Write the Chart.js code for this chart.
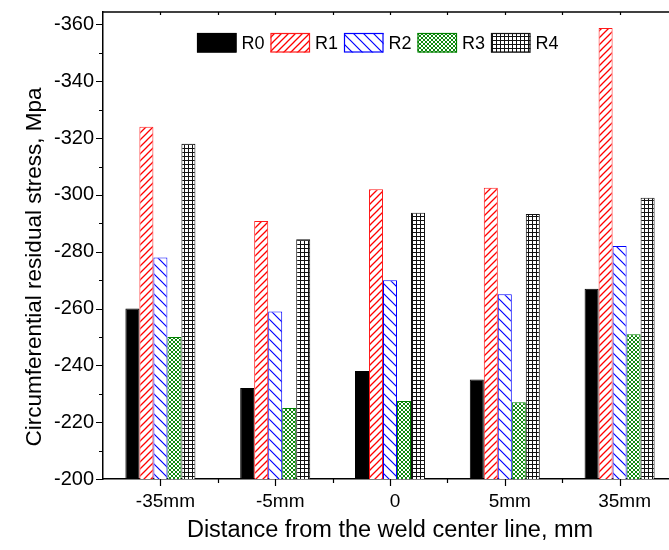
<!DOCTYPE html>
<html>
<head>
<meta charset="utf-8">
<script src="https://cdn.jsdelivr.net/npm/chart.js@4.4.1/dist/chart.umd.min.js"></script>
<style>
html,body{margin:0;padding:0;background:#fff;overflow:hidden;width:669px;height:550px;}
#wrap{width:690px;height:550px;}
</style>
</head>
<body>
<div id="wrap"><canvas id="c" width="690" height="550"></canvas></div>
<script>
// ---- data ----
const categories = ['-35mm', '-5mm', '0', '5mm', '35mm'];
const seriesNames = ['R0', 'R1', 'R2', 'R3', 'R4'];
const R0 = [-260, -232, -238, -235, -267];
const R1 = [-324, -290.8, -302, -302.5, -358.8];
const R2 = [-278, -259, -270, -265, -282];
const R3 = [-250, -225, -227.5, -227, -251];
const R4 = [-318, -284.4, -293.7, -293.3, -299];
const yTickValues = [-200, -220, -240, -260, -280, -300, -320, -340, -360];
const yMinorValues = [-210, -230, -250, -270, -290, -310, -330, -350];
const xTitle = 'Distance from the weld center line, mm';
const yTitle = 'Circumferential residual stress, Mpa';

// ---- patterns ----
function makePattern(kind, color, lw) {
  const c = document.createElement('canvas');
  let s = 7;
  if (kind === 'back') s = 10;
  if (kind === 'cross') s = 4;
  if (kind === 'grid') s = 4;
  c.width = s; c.height = s;
  const g = c.getContext('2d');
  g.fillStyle = '#fff';
  g.fillRect(0, 0, s, s);
  g.strokeStyle = color;
  g.lineWidth = lw;
  g.beginPath();
  if (kind === 'fwd') {
    g.moveTo(-1, s + 1); g.lineTo(s + 1, -1);
    g.moveTo(-1, 1); g.lineTo(1, -1);
    g.moveTo(s - 1, s + 1); g.lineTo(s + 1, s - 1);
  } else if (kind === 'back') {
    g.moveTo(-1, -1); g.lineTo(s + 1, s + 1);
    g.moveTo(s - 1, -1); g.lineTo(s + 1, 1);
    g.moveTo(-1, s - 1); g.lineTo(1, s + 1);
  } else if (kind === 'cross') {
    g.moveTo(-1, -1); g.lineTo(s + 1, s + 1);
    g.moveTo(-1, s + 1); g.lineTo(s + 1, -1);
  } else if (kind === 'grid') {
    g.moveTo(0, 0.5); g.lineTo(s, 0.5);
    g.moveTo(0.5, 0); g.lineTo(0.5, s);
  }
  g.stroke();
  return g.createPattern(c, 'repeat');
}

const ctx = document.getElementById('c').getContext('2d');
const fills = ['#000000', makePattern('fwd', '#ff0000', 1.3), makePattern('back', '#0000ff', 1.2), makePattern('cross', '#108a10', 1), makePattern('grid', '#111111', 1)];
const borders = ['#000000', '#ff1a1a', '#0000ff', '#008000', '#111111'];
const values = [R0, R1, R2, R3, R4];

const FONT = 'Liberation Sans, Arial, sans-serif';

const axisDeco = {
  id: 'axisDeco',
  afterDraw(chart) {
    const { ctx, chartArea: a, scales: { x, y } } = chart;
    ctx.save();
    ctx.strokeStyle = '#000';
    ctx.lineWidth = 1.5;
    // top border
    ctx.beginPath();
    ctx.moveTo(a.left, a.top); ctx.lineTo(a.right + 2, a.top);
    ctx.stroke();
    ctx.lineWidth = 1.2;
    ctx.beginPath();
    yTickValues.forEach(v => { const p = Math.round(y.getPixelForValue(v)) + 0.5; ctx.moveTo(a.left - 7, p); ctx.lineTo(a.left, p); });
    yMinorValues.forEach(v => { const p = Math.round(y.getPixelForValue(v)) + 0.5; ctx.moveTo(a.left - 4, p); ctx.lineTo(a.left, p); });
    for (let i = 0; i < categories.length; i++) {
      const p = Math.round(x.getPixelForValue(i)) + 0.5;
      ctx.moveTo(p, a.bottom); ctx.lineTo(p, a.bottom + 7);
      ctx.moveTo(p, a.top); ctx.lineTo(p, a.top + 3);
      if (i < categories.length - 1) {
        const m = Math.round((x.getPixelForValue(i) + x.getPixelForValue(i + 1)) / 2) + 0.5;
        ctx.moveTo(m, a.bottom); ctx.lineTo(m, a.bottom + 4);
        ctx.moveTo(m, a.top); ctx.lineTo(m, a.top + 3);
      }
    }
    ctx.stroke();
    // y title
    ctx.save();
    ctx.translate(35, 267);
    ctx.rotate(-Math.PI / 2);
    ctx.font = '22.5px ' + FONT;
    ctx.fillStyle = '#000';
    ctx.textAlign = 'center';
    ctx.textBaseline = 'middle';
    ctx.fillText(yTitle, 0, 0);
    ctx.restore();
    // legend
    const lx0 = 197, ly = 33, bw = 39.5, bh = 19.5, stride = 73.5;
    ctx.font = '18px ' + FONT;
    ctx.textBaseline = 'middle';
    ctx.textAlign = 'left';
    chart.data.datasets.forEach((ds, i) => {
      const lx = lx0 + i * stride;
      ctx.fillStyle = ds.backgroundColor;
      ctx.fillRect(lx, ly, bw, bh);
      ctx.strokeStyle = ds.borderColor;
      ctx.lineWidth = 1.2;
      ctx.strokeRect(lx + 0.5, ly + 0.5, bw - 1, bh - 1);
      ctx.fillStyle = '#000';
      ctx.fillText(ds.label, lx + bw + 5, ly + bh / 2 + 1);
    });
    ctx.restore();
  }
};

function noPad(s) { s.paddingTop = 0; s.paddingBottom = 0; s.paddingLeft = 0; s.paddingRight = 0; }

new Chart(ctx, {
  type: 'bar',
  data: {
    labels: categories,
    datasets: seriesNames.map((n, i) => ({
      label: n,
      data: values[i],
      backgroundColor: fills[i],
      borderColor: borders[i],
      borderWidth: 1,
      categoryPercentage: 0.61,
      barPercentage: 1.0
    }))
  },
  options: {
    responsive: false,
    animation: false,
    layout: { padding: { top: 12, right: 13, left: 0, bottom: 0 } },
    plugins: { legend: { display: false }, tooltip: { enabled: false } },
    scales: {
      x: {
        grid: { display: false, drawTicks: false },
        border: { display: true, color: '#000', width: 1.5 },
        ticks: { color: '#000', font: { family: FONT, size: 19 }, padding: 11, labelOffset: 5, maxRotation: 0, autoSkip: false },
        title: { display: true, text: xTitle, color: '#000', font: { family: FONT, size: 23.5 }, padding: { top: 0, bottom: 5 } },
        afterFit(s) { s.height = 71; noPad(s); }
      },
      y: {
        reverse: true,
        beginAtZero: false,
        min: -364.4,
        max: -200,
        grid: { display: false, drawTicks: false },
        border: { display: true, color: '#000', width: 1.5 },
        afterBuildTicks(s) { s.ticks = yTickValues.map(v => ({ value: v })); },
        ticks: { color: '#000', font: { family: FONT, size: 20 }, padding: 9 },
        title: { display: false },
        afterFit(s) { s.width = 103; noPad(s); }
      }
    }
  },
  plugins: [axisDeco]
});
</script>
</body>
</html>
